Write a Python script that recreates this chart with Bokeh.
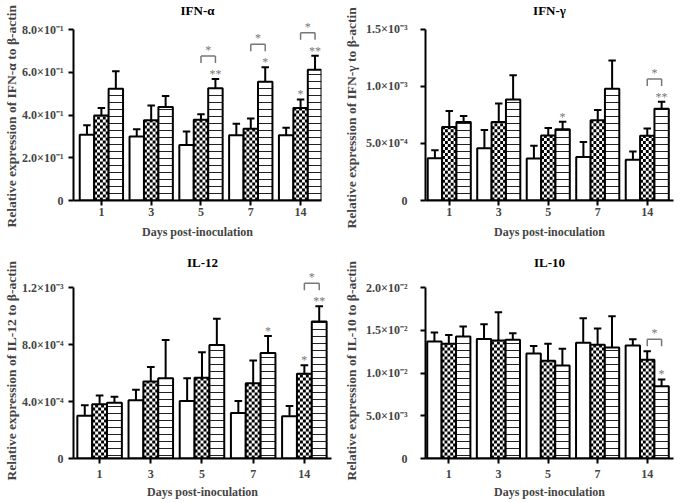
import numpy as np
from bokeh.plotting import figure
from bokeh.layouts import column, row
from bokeh.models import FixedTicker, Title
from bokeh.core.properties import value
from bokeh.embed import file_html
from bokeh.resources import INLINE

days = ["1", "3", "5", "7", "14"]

# ---------------- IFN-alpha (units of 1e-1) ----------------
ifna_open = [3.08, 3.00, 2.60, 3.05, 3.05]
ifna_open_sem = [0.44, 0.33, 0.63, 0.54, 0.35]
ifna_check = [3.98, 3.75, 3.78, 3.36, 4.33]
ifna_check_sem = [0.35, 0.69, 0.25, 0.48, 0.40]
ifna_stripe = [5.23, 4.37, 5.25, 5.55, 6.12]
ifna_stripe_sem = [0.82, 0.52, 0.44, 0.68, 0.65]
ifna_ticks = [0, 2, 4, 6, 8]
ifna_tick_labels = ["0", "2.0×10⁻¹", "4.0×10⁻¹", "6.0×10⁻¹", "8.0×10⁻¹"]
ifna_star_group = [2, 3, 4, 4]
ifna_star_series = [2, 2, 1, 2]
ifna_star_text = ["**", "*", "*", "**"]
ifna_bracket_group = [2, 3, 4]

# ---------------- IFN-gamma (units of 1e-4) ----------------
ifng_open = [3.71, 4.58, 3.68, 3.80, 3.57]
ifng_open_sem = [0.70, 1.60, 1.11, 1.33, 0.72]
ifng_check = [6.44, 6.88, 5.69, 7.02, 5.66]
ifng_check_sem = [1.39, 1.62, 0.66, 0.90, 0.64]
ifng_stripe = [6.88, 8.85, 6.24, 9.78, 8.04]
ifng_stripe_sem = [0.52, 2.12, 0.66, 2.49, 0.61]
ifng_ticks = [0, 5, 10, 15]
ifng_tick_labels = ["0", "5.0×10⁻⁴", "1.0×10⁻³", "1.5×10⁻³"]
ifng_star_group = [2, 4]
ifng_star_series = [2, 2]
ifng_star_text = ["*", "**"]
ifng_bracket_group = [4]

# ---------------- IL-12 (units of 1e-4) ----------------
il12_open = [3.00, 4.08, 4.03, 3.19, 2.96]
il12_open_sem = [0.74, 0.75, 1.60, 0.84, 0.73]
il12_check = [3.80, 5.40, 5.67, 5.28, 5.95]
il12_check_sem = [0.62, 1.02, 1.78, 1.60, 0.59]
il12_stripe = [3.92, 5.63, 7.97, 7.40, 9.61]
il12_stripe_sem = [0.41, 2.68, 1.83, 1.19, 1.07]
il12_ticks = [0, 4, 8, 12]
il12_tick_labels = ["0", "4.0×10⁻⁴", "8.0×10⁻⁴", "1.2×10⁻³"]
il12_star_group = [3, 4, 4]
il12_star_series = [2, 1, 2]
il12_star_text = ["*", "*", "**"]
il12_bracket_group = [4]

# ---------------- IL-10 (units of 1e-3) ----------------
il10_open = [13.69, 13.99, 12.28, 13.54, 13.23]
il10_open_sem = [1.06, 1.71, 0.88, 2.85, 0.72]
il10_check = [13.42, 13.80, 11.44, 13.31, 11.56]
il10_check_sem = [1.03, 3.31, 1.98, 1.90, 0.99]
il10_stripe = [14.26, 13.88, 10.87, 12.97, 8.44]
il10_stripe_sem = [1.18, 0.76, 1.98, 3.68, 0.80]
il10_ticks = [0, 5, 10, 15, 20]
il10_tick_labels = ["0", "5.0×10⁻³", "1.0×10⁻²", "1.5×10⁻²", "2.0×10⁻²"]
il10_star_group = [4]
il10_star_series = [2]
il10_star_text = ["*"]
il10_bracket_group = [4]

FONT = "Liberation Serif"
GREY = "#777777"
BAR_W = 0.29
OFFS = [-BAR_W, 0.0, BAR_W]
W = 337


def panel(title, ylabel, means, sems, ticks, tick_labels,
          star_group, star_series, star_text, bracket_group, g):
    H = g["H"]
    frame_h = H - g["bottom"]
    frame_w = W - g["left"] - g["right"]
    T = ticks[-1]
    y_end = T * frame_h / g["tick_span"]
    upp = y_end / frame_h  # data units per pixel (y)
    xpp = (g["x1"] - g["x0"]) / frame_w  # data units per pixel (x)

    p = figure(width=W, height=H, output_backend="svg", toolbar_location=None,
               x_range=(g["x0"], g["x1"]), y_range=(0, y_end),
               min_border_left=g["left"], min_border_right=g["right"],
               min_border_top=0, min_border_bottom=g["bottom"])
    p.outline_line_color = None
    p.xgrid.grid_line_color = None
    p.ygrid.grid_line_color = None

    xs = np.arange(len(days), dtype=float)
    tops = []
    for k in range(3):
        m = np.array(means[k], dtype=float)
        s = np.array(sems[k], dtype=float)
        xk = xs + OFFS[k]
        tops.append(m + s)
        p.segment(x0=xk, y0=m, x1=xk, y1=m + s, line_color="black", line_width=2)
        p.segment(x0=xk - 0.075, y0=m + s, x1=xk + 0.075, y1=m + s,
                  line_color="black", line_width=2)
        if k == 2:
            p.vbar(x=xk, top=m, bottom=0, width=BAR_W, fill_color="white",
                   line_color="black", line_width=2,
                   hatch_pattern="horizontal_line", hatch_color="#222222",
                   hatch_scale=7, hatch_weight=1)
        elif k == 0:
            p.vbar(x=xk, top=m, bottom=0, width=BAR_W, fill_color="white",
                   line_color="black", line_width=2)
        else:
            # checkerboard made of small cells computed from the bar heights
            ncol = max(1, int(round(BAR_W / xpp / 3.0)))
            cw = BAR_W / ncol
            ch = 3.0 * upp
            L, R, B, Tp = [], [], [], []
            for xc, h in zip(xk, m):
                nrow = int(np.ceil(h / ch))
                for r in range(nrow):
                    for c in range(ncol):
                        if (r + c) % 2 == 0:
                            L.append(xc - BAR_W / 2 + c * cw)
                            R.append(xc - BAR_W / 2 + (c + 1) * cw)
                            B.append(r * ch)
                            Tp.append(min((r + 1) * ch, h))
            p.vbar(x=xk, top=m, bottom=0, width=BAR_W, fill_color="white",
                   line_color=None)
            p.quad(left=L, right=R, bottom=B, top=Tp, fill_color="black",
                   line_color=None)
            p.vbar(x=xk, top=m, bottom=0, width=BAR_W, fill_color=None,
                   line_color="black", line_width=2)

    # asterisks above single bars
    sx, sy = [], []
    for gi, si in zip(star_group, star_series):
        sx.append(xs[gi] + OFFS[si])
        sy.append(tops[si][gi] + g["star_dy"] * upp)
    p.text(x=sx, y=sy, text=star_text, text_font=value(FONT),
           text_font_size=value("12px"), text_color=GREY,
           text_align="center", text_baseline="alphabetic")

    # brackets between checkered and striped bars
    bx0, by0, bx1, by1 = [], [], [], []
    bsx, bsy = [], []
    starred = set(zip(star_group, star_series))
    for gi in bracket_group:
        lv = []
        for si in (1, 2):
            lv.append(tops[si][gi] + (11 * upp if (gi, si) in starred else 0))
        low = max(lv) + 5 * upp
        high = low + 7 * upp
        xa, xb = xs[gi] + OFFS[1], xs[gi] + OFFS[2]
        bx0 += [xa, xa, xb]
        bx1 += [xa, xb, xb]
        by0 += [low, high, high]
        by1 += [high, high, low]
        bsx.append((xa + xb) / 2)
        bsy.append(high + (g["star_dy"] + 1) * upp)
    if bracket_group:
        p.segment(x0=bx0, y0=by0, x1=bx1, y1=by1, line_color=GREY, line_width=1.5)
        p.text(x=bsx, y=bsy, text=["*"] * len(bsx), text_font=value(FONT),
               text_font_size=value("12px"), text_color=GREY,
               text_align="center", text_baseline="alphabetic")

    # panel title drawn inside the (tall) frame, above the data
    p.text(x=[(g["x0"] + g["x1"]) / 2], y=[y_end - g["title_y"] * upp], text=[title],
           text_font=value(FONT), text_font_style="bold",
           text_font_size=value("13px"), text_color="black",
           text_align="center", text_baseline="middle")

    # axes
    xa_ = p.xaxis[0]
    xa_.ticker = FixedTicker(ticks=list(range(len(days))))
    xa_.major_label_overrides = {i: d for i, d in enumerate(days)}
    xa_.axis_label = "Days post-inoculation"
    ya_ = p.yaxis[0]
    ya_.ticker = FixedTicker(ticks=ticks)
    ya_.major_label_overrides = {t: l for t, l in zip(ticks, tick_labels)}
    ya_.bounds = (0, T)
    for ax in (xa_, ya_):
        ax.axis_line_width = 2
        ax.axis_line_color = "black"
        ax.major_tick_line_width = 2
        ax.major_tick_in = 0
        ax.major_tick_out = 5
        ax.minor_tick_line_color = None
        ax.major_label_text_font = FONT
        ax.major_label_text_font_style = "bold"
        ax.major_label_text_font_size = "12px"
    xa_.axis_label_text_font = FONT
    xa_.axis_label_text_font_style = "bold"
    xa_.axis_label_text_font_size = "12px"
    xa_.major_label_standoff = g["xls"]
    xa_.axis_label_standoff = g["xas"]
    ya_.major_label_standoff = g["yls"]

    # y-axis title as a side title, anchored near the bottom of the axis
    p.add_layout(Title(text=ylabel, align="left", offset=g["ylab_off"],
                       standoff=g["ylab_so"], text_font=FONT,
                       text_font_style="bold", text_font_size="13.5px"), "left")
    return p


g_tl = dict(H=248, left=62, right=16, bottom=48, tick_span=171, title_y=10,
            x0=-0.56, x1=4.42, xls=2, xas=6, yls=5, star_dy=5,
            ylab_off=-27, ylab_so=2)
g_tr = dict(H=248, left=82, right=1, bottom=46, tick_span=173, title_y=10,
            x0=-0.48, x1=4.53, xls=2, xas=6, yls=13, star_dy=5,
            ylab_off=-28, ylab_so=9)
g_bl = dict(H=253, left=64, right=6, bottom=43, tick_span=171, title_y=14,
            x0=-0.51, x1=4.53, xls=6, xas=4, yls=5, star_dy=5,
            ylab_off=-22, ylab_so=2)
g_br = dict(H=253, left=82, right=1, bottom=43, tick_span=171, title_y=14,
            x0=-0.47, x1=4.53, xls=6, xas=4, yls=13, star_dy=5,
            ylab_off=-22, ylab_so=9)

p1 = panel("IFN-α", "Relative expression of IFN-α to β-actin",
           [ifna_open, ifna_check, ifna_stripe],
           [ifna_open_sem, ifna_check_sem, ifna_stripe_sem],
           ifna_ticks, ifna_tick_labels,
           ifna_star_group, ifna_star_series, ifna_star_text, ifna_bracket_group, g_tl)
p2 = panel("IFN-γ", "Relative expression of IFN-γ to β-actin",
           [ifng_open, ifng_check, ifng_stripe],
           [ifng_open_sem, ifng_check_sem, ifng_stripe_sem],
           ifng_ticks, ifng_tick_labels,
           ifng_star_group, ifng_star_series, ifng_star_text, ifng_bracket_group, g_tr)
p3 = panel("IL-12", "Relative expression of IL-12 to β-actin",
           [il12_open, il12_check, il12_stripe],
           [il12_open_sem, il12_check_sem, il12_stripe_sem],
           il12_ticks, il12_tick_labels,
           il12_star_group, il12_star_series, il12_star_text, il12_bracket_group, g_bl)
p4 = panel("IL-10", "Relative expression of IL-10 to β-actin",
           [il10_open, il10_check, il10_stripe],
           [il10_open_sem, il10_check_sem, il10_stripe_sem],
           il10_ticks, il10_tick_labels,
           il10_star_group, il10_star_series, il10_star_text, il10_bracket_group, g_br)

layout = column(row(p1, p2), row(p3, p4))
open("out.html", "w").write(file_html(layout, INLINE))
